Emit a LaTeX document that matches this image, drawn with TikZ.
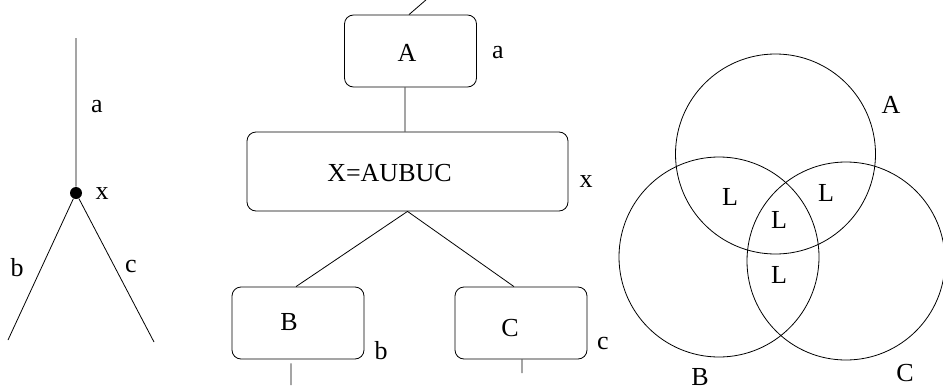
\documentclass[tikz,border=0pt]{standalone}
\usepackage{fontspec}
\setmainfont{Liberation Serif}
\usepackage{tikz}
\usetikzlibrary{calc, positioning}

\tikzset{
    setbox/.style={draw, rounded corners=9pt, minimum width=132pt, minimum height=72pt, inner sep=0pt},
    venn/.style={draw, circle, minimum size=200pt, inner sep=0pt},
    txt/.style={inner sep=0pt}
}

\begin{document}
\begin{tikzpicture}[x=1pt, y=-1pt, line width=0.8pt, font=\fontsize{26}{30}\selectfont]
    \useasboundingbox (0,0) rectangle (943,391);

    % tree
    \coordinate (ttop) at (76,38);
    \coordinate (tleft) at (8,340);
    \coordinate (tright) at (154,342);
    \node[circle, fill=black, minimum size=12pt, inner sep=0pt] (tx) at (76,193) {};
    \node[txt] (la) at (97,107) {a};
    \node[txt] (lx) at (102,194) {x};
    \node[txt] (lb) at (17,268) {b};
    \node[txt] (lc) at (131,266) {c};

    \draw
    (ttop) -- (tx)
    (tx) -- (tleft)
    (tx) -- (tright);

    % boxes
    \node[setbox] (boxA) at (410.5,51) {};
    \node[setbox, minimum width=321pt, minimum height=79pt] (boxX) at (407.5,171.5) {};
    \node[setbox] (boxB) at (298,323) {};
    \node[setbox] (boxC) at (521,323) {};
    \node[txt] (tA) at (407,53) {A};
    \node[txt] (tX) at (389.5,173) {X=AUBUC};
    \node[txt] (tB) at (289,322) {B};
    \node[txt] (tC) at (510,328) {C};
    \node[txt] (sa) at (498,53) {a};
    \node[txt] (sx) at (586,182) {x};
    \node[txt] (sb) at (381,351) {b};
    \node[txt] (sc) at (603,343) {c};
    \coordinate (upA) at (427,-1);
    \coordinate (downB) at (291,385);
    \coordinate (downC) at (522,373);

    \draw
    ([xshift=-1.5pt]boxA.north) -- (upA)
    ([xshift=-5.5pt]boxA.south) -- ([xshift=-2.5pt]boxX.north)
    (boxX.south) -- ([xshift=-2pt]boxB.north)
    (boxX.south) -- ([xshift=-7pt]boxC.north)
    ([xshift=-7pt, yshift=-4pt]boxB.south) -- (downB)
    ([xshift=1pt]boxC.south) -- (downC);

    % venn
    \node[venn] (vA) at (775.5,154) {};
    \node[venn] (vB) at (719,257) {};
    \node[venn, minimum size=198pt] (vC) at (846,261) {};
    \node[txt] (nA) at (891,105) {A};
    \node[txt] (nB) at (700,377) {B};
    \node[txt] (nC) at (905,373) {C};
    \node[txt] (lAB) at (730,197) {L};
    \node[txt] (lAC) at (826,193) {L};
    \node[txt] (lABC) at (779,220) {L};
    \node[txt] (lBC) at (779,275) {L};
\end{tikzpicture}
\end{document}
